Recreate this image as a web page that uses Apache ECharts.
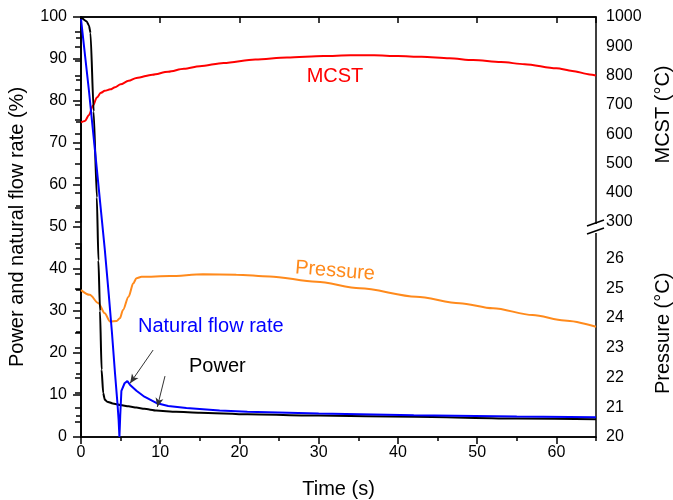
<!DOCTYPE html>
<html>
<head>
<meta charset="utf-8">
<script src="https://cdn.jsdelivr.net/npm/echarts@6/dist/echarts.min.js"></script>
<style>html,body{margin:0;padding:0;background:#fff}#c{width:673px;height:500px}</style>
</head>
<body>
<div id="c"></div>
<script>
// ---- data ----
const powerTime  = [0, 0.7, 1.0, 1.2, 1.6, 2.0, 2.2, 2.4, 2.6, 2.8, 3.0, 3.3, 4, 5, 6, 7, 8, 9.5, 12, 15, 21, 30, 42, 55, 65];
const powerValue = [100, 99, 98, 96.2, 77.5, 57, 42, 30, 16, 10.5, 8.9, 8.4, 8.0, 7.6, 7.3, 7.0, 6.7, 6.3, 6.0, 5.8, 5.4, 5.1, 4.8, 4.4, 4.2];

const flowTime  = [0, 1, 2, 3, 3.5, 3.9, 4.3, 4.6, 4.75, 4.85, 4.95, 5.1, 5.5, 5.85, 6.2, 7, 8, 9.5, 11, 13.3, 17.5, 21, 30, 42, 55, 65];
const flowValue = [99.5, 82.5, 63.8, 44.7, 34, 25, 15, 8, 4, 0, 5, 11, 12.8, 13.3, 12.4, 11.0, 9.6, 8.1, 7.4, 6.9, 6.3, 6.0, 5.6, 5.2, 4.9, 4.7];

const mcstTime  = [0, 0.5, 1.0, 1.5, 2.0, 2.5, 3.0, 3.7, 4.3, 5.0, 6.0, 7.0, 9, 11, 13, 15, 18, 22, 26, 30.6, 34, 37, 40, 43, 46.5, 49.5, 53, 56, 60, 62, 64.2, 65];
const mcstValue = [640, 645, 665, 697, 725, 741, 748, 753, 760, 770, 782, 792, 803, 813, 823, 832, 843, 855, 862, 867, 869, 869, 867, 864, 859, 853, 846, 839, 825, 816, 804, 800];

const pressureTime  = [0, 1.1, 2.2, 3.0, 3.66, 4.5, 4.9, 5.3, 6.0, 6.6, 7.0, 7.65, 11.2, 15.4, 19.6, 23.8, 29.7, 35.2, 42.3, 47.8, 52, 57, 61, 65];
const pressureValue = [24.94, 24.78, 24.5, 24.16, 23.88, 23.9, 23.99, 24.27, 24.72, 25.17, 25.34, 25.39, 25.41, 25.47, 25.46, 25.4, 25.22, 25.0, 24.72, 24.5, 24.33, 24.1, 23.92, 23.71];

// annotation arrows (data coordinates: [time, %])
const flowArrow  = [[9.1, 20.7], [6.2, 12.8]];
const powerArrow = [[10.6, 14.5], [9.63, 7.15]];

const seriesLabels = ['MCST', 'Pressure', 'Natural flow rate', 'Power'];
const axisTitles = ['Time (s)', 'Power and natural flow rate (%)', 'MCST (\u00B0C)', 'Pressure (\u00B0C)'];

const zip = (a, b) => a.map((t, i) => [t, b[i]]);
const FONT = '"Liberation Sans", Arial, sans-serif';

const chart = echarts.init(document.getElementById('c'), null, {renderer: 'canvas', width: 673, height: 500});

const lineAxis = {lineStyle: {color: '#000', width: 1.5}};
const tickStyle = {color: '#000', width: 1.5};
const lbl = {color: '#000', fontSize: 16, fontFamily: FONT};

function arrowLine(pts) {
  return {
    silent: true, animation: false,
    symbol: ['none', 'arrow'], symbolSize: [6, 9],
    label: {show: false},
    lineStyle: {color: '#333', width: 1, type: 'solid'},
    emphasis: {disabled: true},
    data: [[{coord: pts[0]}, {coord: pts[1]}]]
  };
}

const option = {
  animation: false,
  backgroundColor: '#fff',
  textStyle: {fontFamily: FONT},
  grid: [
    {left: 81, right: 77, top: 17, bottom: 63, outerBoundsMode: 'none', containLabel: false, show: true, borderColor: '#000', borderWidth: 1.5, backgroundColor: 'transparent'},
    {left: 81, right: 77, top: 17, height: 205, outerBoundsMode: 'none', containLabel: false},
    {left: 81, right: 77, top: 243.7, bottom: 63, outerBoundsMode: 'none', containLabel: false}
  ],
  xAxis: [
    {gridIndex: 0, type: 'value', min: 0, max: 65, interval: 10, position: 'bottom',
     axisLine: lineAxis, axisTick: {inside: false, length: 7, lineStyle: tickStyle},
     axisLabel: Object.assign({margin: 8, showMaxLabel: false}, lbl), splitLine: {show: false},
     name: axisTitles[0], nameLocation: 'middle', nameGap: 42, nameTextStyle: {fontSize: 20, color: '#000', fontFamily: FONT}},
    {gridIndex: 0, type: 'value', min: 0, max: 65, interval: 5, position: 'bottom',
     axisLine: {show: false}, axisTick: {inside: false, length: 4, lineStyle: tickStyle},
     axisLabel: {show: false}, splitLine: {show: false}},
    {gridIndex: 0, type: 'value', min: 0, max: 65, interval: 10, position: 'top',
     axisLine: lineAxis, axisTick: {inside: true, length: 6, lineStyle: tickStyle},
     axisLabel: {show: false}, splitLine: {show: false}},
    {gridIndex: 1, type: 'value', min: 0, max: 65, show: false},
    {gridIndex: 2, type: 'value', min: 0, max: 65, show: false}
  ],
  yAxis: [
    {gridIndex: 0, type: 'value', min: 0, max: 100, interval: 10, position: 'left',
     axisLine: lineAxis, axisTick: {inside: false, length: 8, lineStyle: tickStyle},
     minorTick: {show: true, splitNumber: 2, length: 5, lineStyle: tickStyle},
     axisLabel: Object.assign({margin: 14}, lbl), splitLine: {show: false}, minorSplitLine: {show: false},
     name: axisTitles[1], nameLocation: 'middle', nameGap: 54, nameRotate: 90,
     nameTextStyle: {fontSize: 20, color: '#000', fontFamily: FONT}},
    {gridIndex: 1, type: 'value', min: 300, max: 1000, interval: 50, position: 'right',
     axisLine: lineAxis, axisTick: {inside: true, length: 6, lineStyle: tickStyle},
     axisLabel: Object.assign({margin: 10, formatter: v => (v % 100 === 0 ? String(v) : '')}, lbl),
     splitLine: {show: false},
     name: axisTitles[2], nameLocation: 'middle', nameGap: 57, nameRotate: 90,
     nameTextStyle: {fontSize: 20, color: '#000', fontFamily: FONT, padding: [0, 0, 0, 10]}},
    {gridIndex: 2, type: 'value', min: 20, max: 26.5, interval: 0.5, position: 'right',
     axisLine: lineAxis, axisTick: {inside: true, length: 6, lineStyle: tickStyle},
     axisLabel: Object.assign({margin: 10, formatter: v => (Number.isInteger(v) && v <= 26 ? String(v) : '')}, lbl),
     splitLine: {show: false},
     name: axisTitles[3], nameLocation: 'middle', nameGap: 57, nameRotate: 90,
     nameTextStyle: {fontSize: 20, color: '#000', fontFamily: FONT, padding: [0, 0, 0, 14]}}
  ],
  series: [
    {name: 'MCST', type: 'line', xAxisIndex: 3, yAxisIndex: 1, data: zip(mcstTime, mcstValue),
     showSymbol: false, smooth: 0.3, smoothMonotone: 'x', lineStyle: {color: '#ff0000', width: 2}, silent: true},
    {name: 'Pressure', type: 'line', xAxisIndex: 4, yAxisIndex: 2, data: zip(pressureTime, pressureValue),
     showSymbol: false, smooth: 0.3, smoothMonotone: 'x', lineStyle: {color: '#ff8a1c', width: 2}, silent: true},
    {name: 'Power', type: 'line', xAxisIndex: 0, yAxisIndex: 0, data: zip(powerTime, powerValue),
     showSymbol: false, smooth: 0.2, smoothMonotone: 'x', lineStyle: {color: '#000', width: 2}, silent: true,
     markLine: arrowLine(powerArrow)},
    {name: 'Natural flow rate', type: 'line', xAxisIndex: 0, yAxisIndex: 0, data: zip(flowTime, flowValue),
     showSymbol: false, lineStyle: {color: '#0000ff', width: 2}, silent: true,
     markLine: arrowLine(flowArrow)}
  ],
  graphic: [
    {type: 'text', x: 335, y: 76, z: 100, style: {text: seriesLabels[0], fill: '#ff0000', font: '20px ' + FONT, align: 'center', verticalAlign: 'middle'}},
    {type: 'text', x: 335, y: 271, rotation: -0.08, z: 100, style: {text: seriesLabels[1], fill: '#ff8a1c', font: '20px ' + FONT, align: 'center', verticalAlign: 'middle'}},
    {type: 'text', x: 138, y: 326, z: 100, style: {text: seriesLabels[2], fill: '#0000ff', font: '20px ' + FONT, align: 'left', verticalAlign: 'middle'}},
    {type: 'text', x: 189, y: 366, z: 100, style: {text: seriesLabels[3], fill: '#000', font: '20px ' + FONT, align: 'left', verticalAlign: 'middle'}},
    // axis break mark on right axis
    {type: 'rect', z: 100, shape: {x: 593, y: 224, width: 7, height: 9}, style: {fill: '#fff'}},
    {type: 'line', z: 101, shape: {x1: 587, y1: 226, x2: 604, y2: 220}, style: {stroke: '#000', lineWidth: 1.5}},
    {type: 'line', z: 101, shape: {x1: 587, y1: 234, x2: 604, y2: 228}, style: {stroke: '#000', lineWidth: 1.5}}
  ]
};
chart.setOption(option);
</script>
</body>
</html>
